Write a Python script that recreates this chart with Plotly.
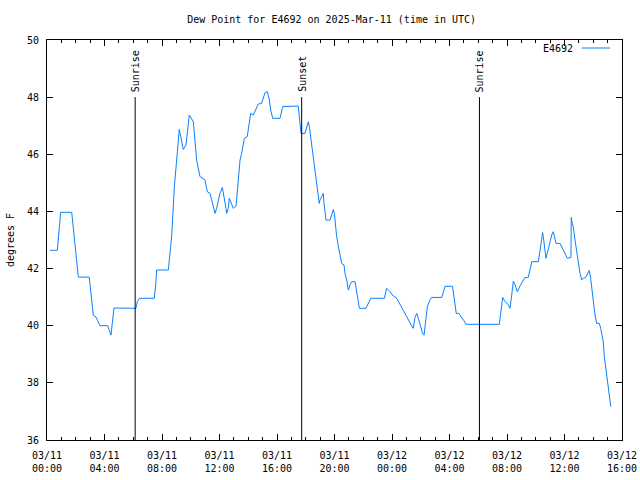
import pandas as pd
import plotly.graph_objects as go

# hours after 2025-03-11 00:00 UTC
hours = [0.21, 0.72, 0.95, 1.72, 2.18, 2.94, 3.22, 3.41, 3.69, 4.22, 4.45, 4.66,
         6.19, 6.28, 6.42, 7.46, 7.56, 7.63, 8.44, 8.51, 8.6, 8.67, 8.72, 8.86,
         9.02, 9.14, 9.2, 9.3, 9.48, 9.67, 9.83, 9.9, 10.18, 10.3, 10.41, 10.64,
         10.87, 10.99, 11.15, 11.34, 11.46, 11.57, 11.69, 11.8, 12.03, 12.2, 12.33,
         12.45, 12.5, 12.61, 12.68, 12.85, 12.96, 13.15, 13.24, 13.31, 13.43, 13.54,
         13.73, 13.93, 14.07, 14.17, 14.35, 14.52, 14.7, 14.93, 15.05, 15.17, 15.33,
         15.47, 15.56, 15.7, 16.21, 16.4, 17.48, 17.55, 17.6, 17.67, 17.95, 18.06,
         18.18, 18.25, 18.34, 18.46, 18.57, 18.69, 18.76, 18.85, 18.94, 18.99, 19.11,
         19.22, 19.27, 19.34, 19.41, 19.69, 19.8, 19.92, 19.99, 20.06, 20.15, 20.27,
         20.38, 20.5, 20.66, 20.73, 20.85, 20.96, 21.08, 21.2, 21.43, 21.54, 21.66,
         21.73, 22.19, 22.35, 22.52, 23.47, 23.63, 23.86, 24.09, 24.33, 24.56, 24.79,
         25.02, 25.25, 25.37, 25.48, 25.6, 25.72, 25.83, 26.0, 26.13, 26.23, 26.3,
         26.41, 26.46, 26.64, 26.76, 27.46, 27.57, 27.69, 28.21, 28.29, 28.38, 28.47,
         28.65, 28.8, 28.93, 29.0, 29.15, 31.47, 31.56, 31.63, 31.7, 31.79, 31.98,
         32.09, 32.21, 32.26, 32.33, 32.4, 32.44, 32.56, 32.72, 32.9, 33.02, 33.25,
         33.48, 33.6, 33.72, 34.18, 34.3, 34.41, 34.48, 34.57, 34.71, 34.8, 34.94,
         35.11, 35.22, 35.29, 35.41, 35.69, 35.81, 35.97, 36.2, 36.45, 36.47, 36.54,
         36.61, 36.73, 36.85, 36.96, 37.08, 37.2, 37.31, 37.47, 37.65, 37.72, 37.82,
         37.96, 38.05, 38.12, 38.24, 38.42, 38.52, 38.59, 38.7, 38.77, 38.87, 38.94,
         39.05, 39.12, 39.22]

dewpoint = [42.64, 42.64, 43.97, 43.97, 41.7, 41.7, 40.37, 40.3, 40.0, 40.0, 39.67, 40.62,
            40.61, 40.84, 40.96, 40.96, 41.43, 41.95, 41.95, 42.42, 42.77, 43.12, 43.7, 44.87,
            45.8, 46.62, 46.87, 46.62, 46.17, 46.33, 47.03, 47.375, 47.14, 46.5, 45.8, 45.22,
            45.16, 45.1, 44.69, 44.63, 44.4, 44.11, 43.93, 44.11, 44.63, 44.84, 44.52,
            44.11, 43.93, 44.11, 44.46, 44.28, 44.11, 44.19, 44.75, 45.1, 45.8, 46.03,
            46.56, 46.62, 47.08, 47.43, 47.375, 47.55, 47.76, 47.78, 47.95, 48.16, 48.19,
            47.9, 47.55, 47.26, 47.26, 47.67, 47.69, 47.32, 46.9, 46.73, 46.73, 46.97,
            47.14, 46.97, 46.62, 46.15, 45.8, 45.33, 45.04, 44.75, 44.28, 44.4, 44.52,
            44.63, 44.28, 43.88, 43.7, 43.7, 43.93, 44.07, 43.93, 43.47, 43.12, 42.77,
            42.42, 42.18, 42.13, 41.83, 41.6, 41.25, 41.43, 41.54, 41.54, 41.19, 40.84,
            40.61, 40.61, 40.78, 40.96, 40.96, 41.31, 41.19, 41.04, 40.96, 40.76, 40.55,
            40.32, 40.1, 39.97, 39.91, 40.29, 40.43, 40.26, 39.91, 39.73, 39.67, 39.97,
            40.32, 40.67, 40.9, 40.99, 40.99, 41.22, 41.38, 41.38, 41.02, 40.78, 40.43,
            40.43, 40.33, 40.24, 40.18, 40.05, 40.05, 40.43, 40.84, 40.99, 40.9, 40.78,
            40.73, 40.61, 40.76, 41.08, 41.39, 41.56, 41.43, 41.19, 41.39, 41.51, 41.69,
            41.69, 41.95, 42.24, 42.24, 42.59, 43.06, 43.26, 42.94, 42.36, 42.53, 42.88,
            43.18, 43.29, 43.12, 42.88, 42.88, 42.77, 42.59, 42.36, 42.39, 43.79, 43.58,
            43.47, 43.0, 42.53, 42.18, 41.83, 41.6, 41.66, 41.69, 41.89, 41.93, 41.66,
            41.02, 40.67, 40.38, 40.08, 40.08, 39.91, 39.73, 39.44, 38.92, 38.57, 38.28,
            37.93, 37.63, 37.17]

sun_events = ["2025-03-11 06:08", "2025-03-11 17:43", "2025-03-12 06:05"]
sun_labels = ["Sunrise", "Sunset", "Sunrise"]

tick_times = ["2025-03-11 00:00", "2025-03-11 04:00", "2025-03-11 08:00",
              "2025-03-11 12:00", "2025-03-11 16:00", "2025-03-11 20:00",
              "2025-03-12 00:00", "2025-03-12 04:00", "2025-03-12 08:00",
              "2025-03-12 12:00", "2025-03-12 16:00"]
tick_text = ["03/11<br>00:00", "03/11<br>04:00", "03/11<br>08:00", "03/11<br>12:00",
             "03/11<br>16:00", "03/11<br>20:00", "03/12<br>00:00", "03/12<br>04:00",
             "03/12<br>08:00", "03/12<br>12:00", "03/12<br>16:00"]
y_ticks = [36, 38, 40, 42, 44, 46, 48, 50]

station = "E4692"
line_color = "#0a80ff"
FONT = "DejaVu Sans Mono"

start = pd.Timestamp("2025-03-11 00:00")
times = [start + pd.Timedelta(hours=h) for h in hours]

fig = go.Figure()
fig.add_trace(go.Scatter(x=times, y=dewpoint, mode="lines", name=station,
                         line=dict(color=line_color, width=1), showlegend=False))

for t, lab in zip(sun_events, sun_labels):
    fig.add_shape(type="line", xref="x", yref="y", x0=t, x1=t, y0=36, y1=48,
                  line=dict(color="black", width=1))
    fig.add_annotation(x=t, y=48, xref="x", yref="y", text=lab, showarrow=False,
                       textangle=-90, yanchor="bottom", xanchor="center", yshift=3,
                       font=dict(family=FONT, size=10, color="black"))

# legend (text then line sample, gnuplot style)
fig.add_annotation(x=0.918, y=0.98, xref="paper", yref="paper", text=station,
                   showarrow=False, xanchor="right", yanchor="middle",
                   font=dict(family=FONT, size=10, color="black"))
fig.add_shape(type="line", xref="paper", yref="paper", x0=0.930, x1=0.979,
              y0=0.98, y1=0.98, line=dict(color=line_color, width=1))

axis_common = dict(showgrid=False, zeroline=False, showline=True, linecolor="black",
                   linewidth=1, mirror="ticks", ticks="inside", tickcolor="black",
                   automargin=False,
                   tickfont=dict(family=FONT, size=10, color="black"))

fig.update_xaxes(type="date", range=["2025-03-11 00:00", "2025-03-12 16:00"],
                 tickmode="array", tickvals=tick_times, ticktext=tick_text,
                 ticklen=6, ticklabelstandoff=6,
                 minor=dict(ticks="inside", dtick=3600000, ticklen=3,
                            tickcolor="black", showgrid=False),
                 **axis_common)
fig.update_yaxes(range=[36, 50], tickmode="array", tickvals=y_ticks, ticklen=6,
                 ticklabelstandoff=5,
                 title=dict(text="degrees F", font=dict(family=FONT, size=10, color="black"),
                            standoff=10),
                 **axis_common)

fig.update_layout(
    width=640, height=480,
    margin=dict(l=47, r=18, t=40, b=40),
    paper_bgcolor="white", plot_bgcolor="white",
    title=dict(text="Dew Point for E4692 on 2025-Mar-11 (time in UTC)",
               xref="paper", x=0.495, xanchor="center", y=0.96, yanchor="middle",
               font=dict(family=FONT, size=10, color="black")),
    font=dict(family=FONT, size=10, color="black"),
)

fig.write_html("out.html")
